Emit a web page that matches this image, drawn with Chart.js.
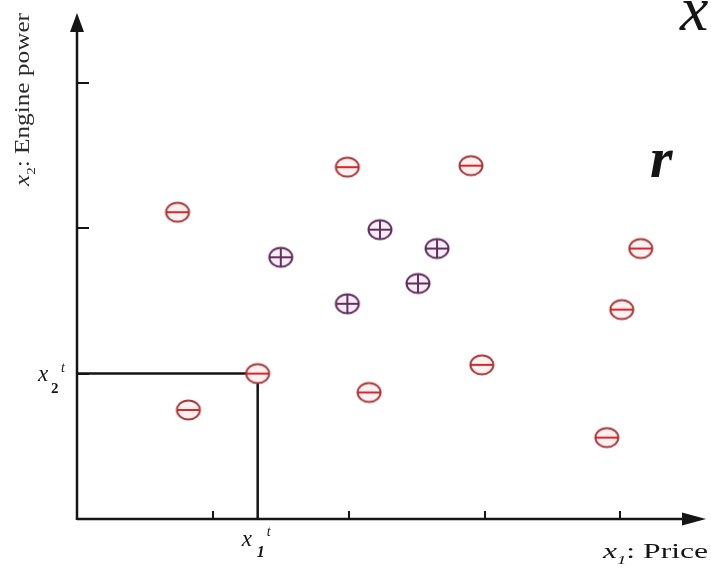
<!DOCTYPE html>
<html>
<head>
<meta charset="utf-8">
<script src="https://cdn.jsdelivr.net/npm/chart.js@4/dist/chart.umd.min.js"></script>
<style>
  body { margin: 0; background: #fff; }
  #wrap { width: 711px; height: 573px; position: relative; }
</style>
</head>
<body>
<div id="wrap"><canvas id="scatter"></canvas></div>
<script>
// Points on the price / engine power plane
const minusPoints = [
  { x: 0.74, y: 2.11 },
  { x: 1.99, y: 2.42 },
  { x: 2.90, y: 2.43 },
  { x: 4.15, y: 1.86 },
  { x: 4.01, y: 1.44 },
  { x: 2.98, y: 1.06 },
  { x: 1.33, y: 1.00 },
  { x: 0.82, y: 0.75 },
  { x: 2.15, y: 0.87 },
  { x: 3.90, y: 0.56 }
];
const plusPoints = [
  { x: 2.23, y: 1.99 },
  { x: 1.50, y: 1.80 },
  { x: 2.65, y: 1.86 },
  { x: 2.51, y: 1.62 },
  { x: 1.99, y: 1.48 }
];
// the query point x^t and its projections onto both axes
const queryPoint = { x: 1.33, y: 1.00 };
const xTicks = [1, 2, 3, 4];
const yTicks = [1, 2, 3];
const xMax = 4.63;
const yMax = 3.48;

// marker glyphs: circle with a minus or a plus
function makeMarker(outline, fill, bar, plus) {
  const c = document.createElement('canvas');
  c.width = 28; c.height = 24;
  const g = c.getContext('2d');
  g.beginPath();
  g.ellipse(14, 12, 11.5, 9.5, 0, 0, Math.PI * 2);
  g.fillStyle = fill;
  g.fill();
  g.strokeStyle = bar;
  g.lineWidth = 2;
  g.beginPath();
  g.moveTo(2.5, 12); g.lineTo(25.5, 12);
  if (plus) { g.moveTo(14, 2.5); g.lineTo(14, 21.5); }
  g.stroke();
  g.beginPath();
  g.ellipse(14, 12, 11.5, 9.5, 0, 0, Math.PI * 2);
  g.strokeStyle = outline;
  g.lineWidth = 2;
  g.stroke();
  return c;
}
const minusMarker = makeMarker('#a83a3a', '#fdf1f2', '#d8262a', false);
const plusMarker = makeMarker('#62305f', '#f8ecf6', '#62305f', true);

const ink = '#151515';

// draws a run of text pieces, stretched to a given width
function drawRun(ctx, parts, x, y, width) {
  let total = 0;
  parts.forEach(p => { ctx.font = p.font; total += ctx.measureText(p.text).width + (p.gap || 0); });
  const s = width / total;
  ctx.save();
  ctx.translate(x, y);
  ctx.scale(s, 1);
  let cx = 0;
  parts.forEach(p => {
    ctx.font = p.font;
    ctx.fillText(p.text, cx, p.dy || 0);
    cx += ctx.measureText(p.text).width + (p.gap || 0);
  });
  ctx.restore();
}

const axesPlugin = {
  id: 'arrowAxes',
  beforeDatasetsDraw(chart) {
    const { ctx, scales } = chart;
    const x0 = scales.x.getPixelForValue(0);
    const y0 = scales.y.getPixelForValue(0);
    const xEnd = scales.x.getPixelForValue(xMax);
    const yEnd = scales.y.getPixelForValue(yMax);
    ctx.save();
    ctx.strokeStyle = ink;
    ctx.fillStyle = ink;
    ctx.lineWidth = 2.5;
    ctx.beginPath();
    ctx.moveTo(x0, y0); ctx.lineTo(xEnd - 16, y0);
    ctx.moveTo(x0, y0 + 1); ctx.lineTo(x0, yEnd + 14);
    ctx.stroke();
    // arrow heads
    ctx.beginPath();
    ctx.moveTo(xEnd, y0); ctx.lineTo(xEnd - 24, y0 - 6.5); ctx.lineTo(xEnd - 24, y0 + 6.5);
    ctx.closePath(); ctx.fill();
    ctx.beginPath();
    ctx.moveTo(x0, yEnd); ctx.lineTo(x0 - 7, yEnd + 19); ctx.lineTo(x0 + 7, yEnd + 19);
    ctx.closePath(); ctx.fill();
    // inward tick marks
    ctx.lineWidth = 2;
    ctx.beginPath();
    xTicks.forEach(v => {
      const px = Math.round(scales.x.getPixelForValue(v));
      ctx.moveTo(px, y0); ctx.lineTo(px, y0 - 8);
    });
    yTicks.forEach(v => {
      const py = Math.round(scales.y.getPixelForValue(v));
      ctx.moveTo(x0, py); ctx.lineTo(x0 + 12, py);
    });
    ctx.stroke();

    // labels
    ctx.textBaseline = 'alphabetic';
    const serif = '"Liberation Serif", "DejaVu Serif", serif';
    drawRun(ctx, [
      { text: 'x', font: 'italic 22px ' + serif },
      { text: '1', font: 'italic 13px ' + serif, dy: 6 },
      { text: ': Price', font: '22px ' + serif }
    ], 603, 558, 105);

    ctx.save();
    ctx.fillStyle = '#2a2a2a';
    ctx.translate(29, 186);
    ctx.rotate(-Math.PI / 2);
    drawRun(ctx, [
      { text: 'x', font: 'italic 22px ' + serif },
      { text: '2', font: '13px ' + serif, dy: 6 },
      { text: ': Engine power', font: '22px ' + serif }
    ], 0, 0, 173);
    ctx.restore();

    const qx = scales.x.getPixelForValue(queryPoint.x);
    const qy = scales.y.getPixelForValue(queryPoint.y);
    ctx.font = 'italic 23px ' + serif;
    ctx.fillText('x', 38, qy + 7);
    ctx.font = 'bold 15px ' + serif;
    ctx.fillText('2', 51, qy + 19);
    ctx.font = 'italic 14px ' + serif;
    ctx.fillText('t', 61, qy - 2);

    ctx.font = 'italic 23px ' + serif;
    ctx.fillText('x', qx - 16, y0 + 27);
    ctx.font = 'italic bold 16px ' + serif;
    ctx.fillText('1', qx - 1, y0 + 38);
    ctx.font = 'italic 14px ' + serif;
    ctx.fillText('t', qx + 9, y0 + 17);

    // large letters at the right edge
    ctx.font = 'italic 64px ' + serif;
    ctx.fillText('x', 680, 30);
    ctx.font = 'italic bold 58px ' + serif;
    ctx.fillText('r', 650, 177);
    ctx.restore();
  }
};

new Chart(document.getElementById('scatter'), {
  type: 'scatter',
  data: {
    datasets: [
      {
        label: 'projection',
        data: [{ x: 0, y: queryPoint.y }, queryPoint, { x: queryPoint.x, y: 0 }],
        showLine: true,
        borderColor: ink,
        borderWidth: 2.5,
        pointRadius: 0,
        order: 3
      },
      {
        label: 'minus',
        data: minusPoints,
        pointStyle: minusMarker,
        order: 1
      },
      {
        label: 'plus',
        data: plusPoints,
        pointStyle: plusMarker,
        order: 1
      }
    ]
  },
  options: {
    responsive: true,
    maintainAspectRatio: false,
    animation: false,
    events: [],
    layout: { padding: { left: 77, top: 13, right: 4, bottom: 54 } },
    plugins: { legend: { display: false }, tooltip: { enabled: false } },
    scales: {
      x: { type: 'linear', min: 0, max: xMax, display: false },
      y: { type: 'linear', min: 0, max: yMax, display: false }
    }
  },
  plugins: [axesPlugin]
});
</script>
</body>
</html>
